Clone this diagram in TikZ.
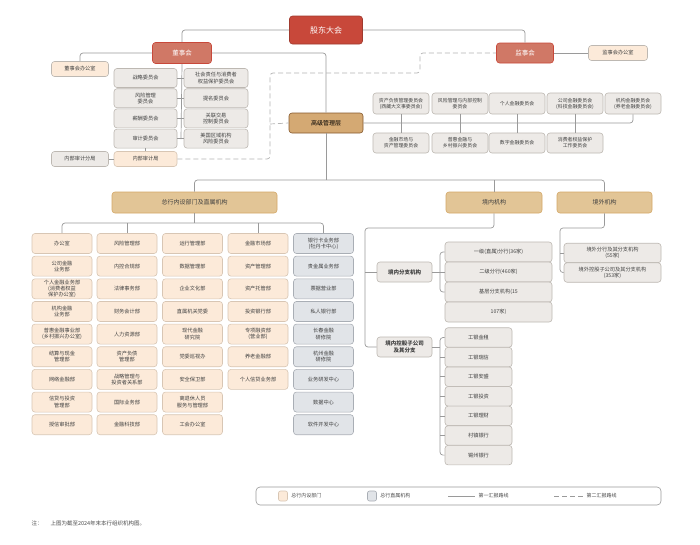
\documentclass[tikz,border=0pt]{standalone}
\usepackage{fontspec}
\newfontfamily\cjk{Noto Sans CJK SC}
\begin{document}
\begin{tikzpicture}[x=1pt,y=-1pt,
 base/.style={rounded corners=3pt,draw,line width=0.6pt,align=center,inner sep=0.5pt,font=\cjk\fontsize{5.2}{6.2}\selectfont,text=black!75},
 cream/.style={base,fill=cream,draw=creamb,minimum width=60pt,minimum height=20pt},
 grayb/.style={base,fill=grayf,draw=grayd,minimum height=19pt},
 blueb/.style={base,fill=bluef,draw=blued,minimum width=60pt,minimum height=20pt},
 tan/.style={base,fill=tanf,draw=tand,font=\cjk\fontsize{6}{7}\selectfont,minimum height=21pt},
 ln/.style={draw=lineg,line width=0.7pt,rounded corners=3pt},
 dl/.style={ln,dash pattern=on 5pt off 3pt,draw=lined}]
\definecolor{cream}{HTML}{FCEAD9}\definecolor{creamb}{HTML}{D8C6B4}
\definecolor{grayf}{HTML}{EDEAE7}\definecolor{grayd}{HTML}{BDB8B2}
\definecolor{bluef}{HTML}{E1E4E8}\definecolor{blued}{HTML}{A9AEB5}
\definecolor{tanf}{HTML}{E2C596}\definecolor{tand}{HTML}{D4A868}
\definecolor{lineg}{HTML}{9A9A9A}\definecolor{lined}{HTML}{B5B5B5}
\definecolor{redf}{HTML}{C8483A}\definecolor{salm}{HTML}{D07866}
\useasboundingbox (0,0) rectangle (700,544);
\fill[white] (0,0) rectangle (700,544);
% top
\node[base,fill=redf,draw=redf!80!black,text=white,minimum width=73pt,minimum height=28pt,font=\cjk\fontsize{8}{9}\selectfont] (gd) at (326,30) {股东大会};
\node[base,fill=salm,draw=redf,text=white,minimum width=59pt,minimum height=21pt,font=\cjk\fontsize{6.5}{7}\selectfont] (dsh) at (182,53) {董事会};
\node[base,fill=salm,draw=redf,text=white,minimum width=57pt,minimum height=20pt,font=\cjk\fontsize{6.5}{7}\selectfont] (jsh) at (525,53) {监事会};
\node[base,fill=cream,draw=grayd,minimum width=59pt,minimum height=15pt] (jsb) at (618,53) {监事会办公室};
\node[base,fill=cream,draw=grayd,minimum width=57pt,minimum height=15pt] (dsb) at (80,69) {董事会办公室};
\node[base,fill=cream!50!grayf,draw=grayd,minimum width=74pt,minimum height=20pt,fill=tanf!60!brown,draw=brown!70!black,font=\cjk\fontsize{6}{7}\selectfont,text=black] (gm) at (326,123) {高级管理层};
\draw[ln] (gd.west) -| (dsh.north);
\draw[ln] (gd.east) -| (jsh.north);
\draw[ln] (jsh.east) -- (jsb.west);
\draw[ln] (dsh.west) -| (dsb.north);
\draw[ln] (dsh.east) -| (gm.north);
% board committees
\foreach \t [count=\i from 0] in {战略委员会,{风险管理\\委员会},薪酬委员会,审计委员会}
 \node[grayb,minimum width=63pt] (l\i) at (145.5,{78+20.2*\i}) {\t};
\foreach \t [count=\i from 0] in {{社会责任与消费者\\权益保护委员会},提名委员会,{关联交易\\控制委员会},{美国区域机构\\风险委员会}}
 \node[grayb,minimum width=64pt] (r\i) at (216,{78+20.2*\i}) {\t};
\coordinate (cb) at (181,139);
\draw[ln] (dsh.south) -- (cb);
\foreach \i in {0,...,3}{\draw[ln] (l\i.east) -- (r\i.west);}
\node[base,fill=cream,draw=creamb,minimum width=63pt,minimum height=15pt] (nsj) at (145.5,159) {内部审计局};
\node[base,fill=grayf,draw=grayd,minimum width=57pt,minimum height=15pt] (nsf) at (80,159) {内部审计分局};
\draw[ln] (l3.south) -- (nsj.north);
\draw[ln] (nsf.east) -- (nsj.west);
\coordinate (d1) at (270,73);\coordinate (d2) at (420,73);
\draw[dl] (nsj.east) -| (d1) -- (d2) |- (jsh.west);
\draw[dl] (270,124) -- (gm.west);
% management committees
\foreach \t [count=\i] / \x in {{资产负债管理委员会\\(西藏大文事委员会)}/401,{风险管理与内部控制\\委员会}/460,个人金融委员会/517,{公司金融委员会\\(科技金融委员会)}/575,{机构金融委员会\\(养老金融委员会)}/633}
 \node[grayb,minimum width=56pt,minimum height=21pt,font=\cjk\fontsize{4.9}{6}\selectfont] (m\i) at (\x,103.5) {\t};
\foreach \t [count=\i] / \x in {{金融市场与\\资产管理委员会}/401,{普惠金融与\\乡村振兴委员会}/460,数字金融委员会/517,{消费者权益保护\\工作委员会}/575}
 \node[grayb,minimum width=56pt,minimum height=20pt,font=\cjk\fontsize{4.9}{6}\selectfont] (b\i) at (\x,143) {\t};
\draw[ln] (gm.east) -| (m5.south);
\foreach \i in {1,...,4}{\draw[ln] (m\i.south) -- (b\i.north);}
% level 2
\node[tan,minimum width=165pt] (zh) at (194.5,202.5) {总行内设部门及直属机构};
\node[tan,minimum width=96pt] (jn) at (494,202.5) {境内机构};
\node[tan,minimum width=95pt] (jw) at (604.5,202.5) {境外机构};
\coordinate (h0) at (326,180);
\draw[ln] (gm.south) -- (h0);
\draw[ln] (zh.north) |- (h0) -| (jw.north);
\draw[ln] (jn.north) -- (494,180);
% columns
\foreach \t [count=\i from 0] in {办公室,{公司金融\\业务部},{个人金融业务部\\(消费者权益\\保护办公室)},{机构金融\\业务部},{普惠金融事业部\\(乡村振兴办公室)},{结算与现金\\管理部},网络金融部,{信贷与投资\\管理部},授信审批部}
 \node[cream] (a\i) at (62,{243.5+22.65*\i}) {\t};
\foreach \t [count=\i from 0] in {风险管理部,内控合规部,法律事务部,财务会计部,人力资源部,{资产负债\\管理部},{战略管理与\\投资者关系部},国际业务部,金融科技部}
 \node[cream] (bb\i) at (127,{243.5+22.65*\i}) {\t};
\foreach \t [count=\i from 0] in {运行管理部,数据管理部,企业文化部,直属机关党委,{现代金融\\研究院},党委巡视办,安全保卫部,{离退休人员\\服务与管理部},工会办公室}
 \node[cream] (cc\i) at (192.5,{243.5+22.65*\i}) {\t};
\foreach \t [count=\i from 0] in {金融市场部,资产管理部,资产托管部,投资银行部,{专项融资部\\(营业部)},养老金融部,个人信贷业务部}
 \node[cream] (dd\i) at (258,{243.5+22.65*\i}) {\t};
\foreach \t [count=\i from 0] in {{银行卡业务部\\(牡丹卡中心)},贵金属业务部,票据营业部,私人银行部,{长春金融\\研修院},{杭州金融\\研修院},业务研发中心,数据中心,软件开发中心}
 \node[blueb] (ee\i) at (323.5,{243.5+22.65*\i}) {\t};
\coordinate (hc) at (194.5,223);
\draw[ln] (zh.south) -- (hc);
\draw[ln] (a0.north) |- (hc) -| (ee0.north);
\draw[ln] (bb0.north) -- (127,223);
\draw[ln] (dd0.north) -- (258,223);
% domestic
\node[grayb,minimum width=55pt,minimum height=20pt,font=\cjk\fontsize{5.5}{6.3}\selectfont\bfseries] (fz) at (404.5,272) {境内分支机构};
\node[grayb,minimum width=55pt,minimum height=20pt,font=\cjk\fontsize{5.5}{6.3}\selectfont\bfseries] (kg) at (404.5,347) {境内控股子公司\\及其分支};
\coordinate (jc) at (365,228);
\draw[ln] (jn.south) |- (jc) |- (kg.west);
\draw[ln] (365,272) -- (fz.west);
\foreach \t [count=\i from 0] in {一级(直属)分行(36家),二级分行(460家),基层分支机构(15,107家)}
 \node[grayb,minimum width=107pt,minimum height=20pt] (f\i) at (498.5,{252+20*\i}) {\t};
\draw[ln] (fz.east) -- (f1.west);
\draw[ln] (f0.west) -| (440,262) -- (440,282) |- (f2.west);
\foreach \t [count=\i from 0] in {工银金租,工银瑞信,工银安盛,工银投资,工银理财,村镇银行,锡州银行}
 \node[grayb,minimum width=67pt,minimum height=19.5pt] (k\i) at (478.5,{337.5+19.6*\i}) {\t};
\draw[ln] (kg.east) -- (440,347);
\draw[ln] (k0.west) -| (440,345) -- (440,447) |- (k6.west);
\foreach \i in {1,...,5}{\draw[ln] (440,0|-k\i.west) -- (k\i.west);}
% overseas
\node[grayb,minimum width=97pt,minimum height=19.5pt] (o0) at (612.5,253) {境外分行及其分支机构\\(55家)};
\node[grayb,minimum width=97pt,minimum height=19.5pt] (o1) at (612.5,272.5) {境外控股子公司及其分支机构\\(353家)};
\draw[ln] (jw.south) |- (560,228) |- (o1.west);
\draw[ln] (560,253) -- (o0.west);
% legend
\draw[draw=lineg,line width=0.6pt,rounded corners=4pt] (256,487) rectangle (661,505);
\node[base,fill=cream,draw=creamb,minimum width=9pt,minimum height=10pt,rounded corners=2pt] (s1) at (283,496) {};
\node[anchor=west,font=\cjk\fontsize{5}{6}\selectfont,text=black!70] (t1) at (s1.east) {总行内设部门};
\node[base,fill=bluef,draw=blued,minimum width=9pt,minimum height=10pt,rounded corners=2pt] (s2) at (372,496) {};
\node[anchor=west,font=\cjk\fontsize{5}{6}\selectfont,text=black!70] (t2) at (s2.east) {总行直属机构};
\coordinate (p1) at (448,496);\coordinate (p2) at (475,496);
\draw[ln] (p1) -- (p2);
\node[anchor=west,font=\cjk\fontsize{5}{6}\selectfont,text=black!70] (t3) at (p2) {第一汇报路线};
\coordinate (q1) at (554,496);\coordinate (q2) at (583,496);
\draw[ln,dash pattern=on 5pt off 3pt] (q1) -- (q2);
\node[anchor=west,font=\cjk\fontsize{5}{6}\selectfont,text=black!70] (t4) at (q2) {第二汇报路线};
\node[anchor=west,font=\cjk\fontsize{5.5}{6.5}\selectfont,text=black!70] (note) at (28,523) {注：\hspace{8pt}上图为截至2024年末本行组织机构图。};
\end{tikzpicture}
\end{document}
